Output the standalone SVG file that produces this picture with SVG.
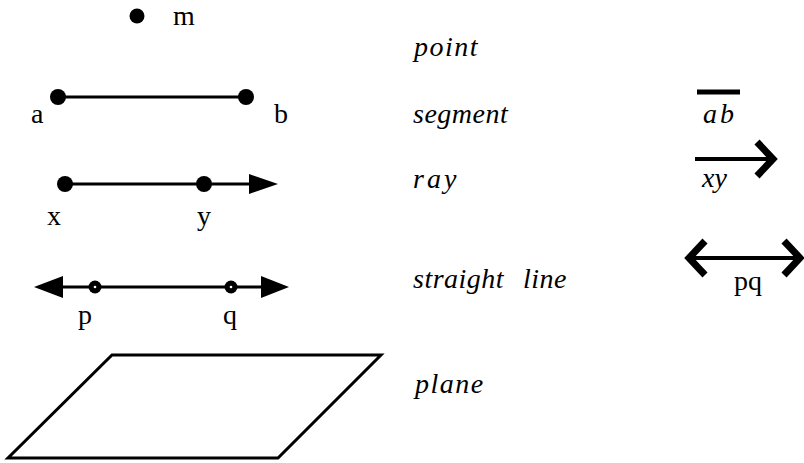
<svg xmlns="http://www.w3.org/2000/svg" width="804" height="463" viewBox="0 0 804 463">
<style>
.lbl{font-family:"Liberation Serif","Times New Roman",serif;font-size:28px;fill:#000}
.it{font-family:"Liberation Serif","Times New Roman",serif;font-size:28px;font-style:italic;fill:#000}
.ln{stroke:#000;stroke-width:3;fill:none}
.dot{fill:#000}
.hd{fill:#000}
.chev{stroke:#000;stroke-width:7;fill:none;stroke-linejoin:miter;stroke-linecap:butt}
</style>
<rect width="804" height="463" fill="#fff"/>
<g id="connectors">
<line class="ln" x1="58" y1="97" x2="246" y2="97"/>
<line class="ln" x1="65" y1="184" x2="252" y2="184"/>
<polygon class="hd" points="249,174 278,184 249,194"/>
<line class="ln" x1="60" y1="287" x2="264" y2="287"/>
<polygon class="hd" points="63,276 34,287 63,298"/>
<polygon class="hd" points="261,276 289,287 261,298"/>
</g>
<g id="point-m">
<circle class="dot" cx="137" cy="16" r="7.5"/>
<text class="lbl" x="173" y="25" font-size="27">m</text>
</g>
<g id="point-a">
<circle class="dot" cx="58" cy="97" r="8"/>
<text class="lbl" x="31" y="123">a</text>
</g>
<g id="point-b">
<circle class="dot" cx="246" cy="97" r="8"/>
<text class="lbl" x="274" y="123">b</text>
</g>
<g id="point-x">
<circle class="dot" cx="65" cy="184" r="8"/>
<text class="lbl" x="47" y="225">x</text>
</g>
<g id="point-y">
<circle class="dot" cx="204" cy="184" r="8"/>
<text class="lbl" x="197" y="225">y</text>
</g>
<g id="point-p">
<circle class="dot" cx="95" cy="287" r="6.5"/>
<circle cx="95" cy="287" r="1.3" fill="#fff"/>
<text class="lbl" x="78" y="324">p</text>
</g>
<g id="point-q">
<circle class="dot" cx="231" cy="287" r="6.5"/>
<circle cx="231" cy="287" r="1.3" fill="#fff"/>
<text class="lbl" x="223" y="324">q</text>
</g>
<g id="plane">
<polygon class="ln" points="112,355 381,355 278,458 8,458"/>
</g>
<g id="names">
<text class="it" x="414" y="56" letter-spacing="1.5">point</text>
<text class="it" x="413" y="123" letter-spacing="0.5">segment</text>
<text class="it" x="413" y="188" letter-spacing="3">ray</text>
<text class="it" x="413" y="288" letter-spacing="0.5">straight <tspan x="523">line</tspan></text>
<text class="it" x="415" y="393" letter-spacing="1.5">plane</text>
</g>
<g id="notation-ab">
<line x1="697" y1="92" x2="740" y2="92" stroke="#000" stroke-width="5"/>
<text class="it" x="703" y="123" letter-spacing="3">ab</text>
</g>
<g id="notation-xy">
<line x1="695" y1="159" x2="770" y2="159" stroke="#000" stroke-width="4"/>
<polyline class="chev" points="757,142 773,159 757,176"/>
<text class="it" x="702" y="187">xy</text>
</g>
<g id="notation-pq">
<line x1="692" y1="258" x2="797" y2="258" stroke="#000" stroke-width="4"/>
<polyline class="chev" points="705,241 689,258 705,275"/>
<polyline class="chev" points="784,241 800,258 784,275"/>
<text class="lbl" x="734" y="290">pq</text>
</g>
</svg>
